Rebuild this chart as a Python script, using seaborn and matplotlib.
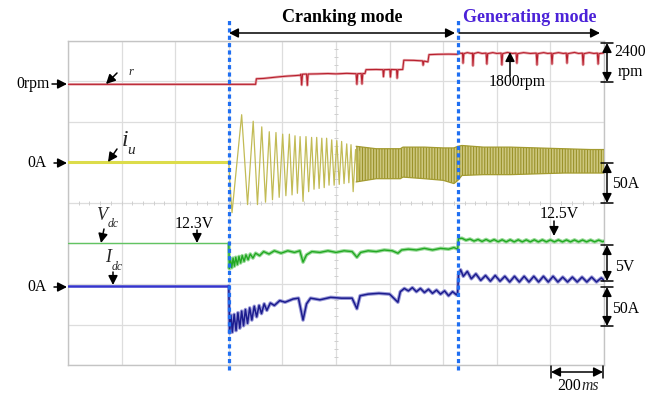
import numpy as np
import pandas as pd
import matplotlib
matplotlib.use("Agg")
import matplotlib.pyplot as plt
from matplotlib.lines import Line2D
from matplotlib.patches import FancyArrowPatch
import seaborn as sns

# ---------------- recorded waveforms (time in ms, 200 ms/div) ----------------
speed_t = [0, 700, 703, 730, 760, 790, 820, 850, 866, 869, 872, 875, 890, 893, 896,
           930, 970, 1000, 1040, 1075, 1078, 1081, 1094, 1097, 1100, 1108, 1112, 1150,
           1175, 1177, 1180, 1201, 1203, 1206, 1226, 1228, 1231, 1249, 1253, 1290, 1323,
           1325, 1328, 1343, 1347, 1380, 1420, 1454,
           1457, 1468, 1472, 1474, 1477, 1490, 1505, 1509, 1511, 1514, 1530, 1545, 1560,
           1563, 1566, 1585, 1600, 1616, 1619, 1622, 1640, 1658, 1672, 1675, 1678, 1700,
           1725, 1747, 1750, 1753, 1775, 1790, 1803, 1806, 1809, 1830, 1848, 1859, 1862,
           1865, 1890, 1905, 1919, 1922, 1925, 1945, 1962, 1975, 1978, 1981, 2000]
speed_rpm = [0, 0, 330, 350, 400, 450, 490, 520, 540, 600, -40, 600, 610, -60, 610,
             620, 640, 620, 650, 630, 0, 630, 640, 20, 640, 640, 870, 880,
             870, 450, 870, 880, 430, 880, 870, 360, 870, 880, 1430, 1420, 1390,
             1130, 1380, 1330, 1760, 1780, 1790, 1780,
             1880, 1830, 1850, 1250, 1820, 1880, 1830, 1850, 1100, 1820, 1890, 1830, 1850,
             1200, 1820, 1880, 1830, 1850, 1150, 1820, 1890, 1830, 1850, 1250, 1820, 1880,
             1830, 1850, 1150, 1820, 1880, 1830, 1850, 1200, 1820, 1880, 1830, 1850, 1250,
             1820, 1890, 1830, 1850, 1150, 1820, 1880, 1830, 1850, 1200, 1820, 1860]

iu_t = [0, 600, 603, 612, 648, 670, 691, 707, 723, 737, 751, 763, 776, 788, 801, 813,
        826, 836, 847, 856, 866, 877, 888, 898, 909, 918, 928, 937, 947, 956, 965, 974,
        984, 993, 1003, 1012, 1021, 1030, 1040, 1048, 1056, 1064, 1073, 1081, 1089]
iu_amp = [0, 0, -20, -62, 59, -52, 51, -52, 44, -49, 38, -46, 37, -43, 35, -41,
          35, -40, 33, -38, 32, -48, 32, -36, 31, -33, 31, -32, 30, -31, 30, -28,
          28, -28, 27, -27, 26, -26, 23, -25, 22, -36, 16, -22, 14]

# dense part of the phase current: envelope of the ripple band
iu_band_t = [1075, 1150, 1240, 1250, 1330, 1400, 1440, 1455, 1470, 1550, 1650, 1750,
             1850, 1950, 2000]
iu_band_hi = [20, 17, 17, 19, 19, 18, 18, 20, 21, 19, 19, 18, 17, 16, 16]
iu_band_lo = [-24, -20, -20, -18, -20, -22, -26, -22, -16, -15, -15, -14, -13, -13, -13]

vdc_t = [0, 600, 602, 606, 611, 616, 621, 626, 632, 638, 644, 650, 657, 664, 672, 680,
         690, 700, 715, 730, 750, 770, 795, 820, 845, 865, 877, 890, 910, 940, 970,
         1000, 1030, 1060, 1078, 1092, 1120, 1150, 1180, 1210, 1231, 1245, 1270, 1300,
         1330, 1360, 1390, 1420, 1440, 1454,
         1457, 1470, 1485, 1500, 1515, 1530, 1545, 1560, 1575, 1590, 1605, 1620, 1635,
         1650, 1665, 1680, 1695, 1710, 1725, 1740, 1755, 1770, 1785, 1800, 1815, 1830,
         1845, 1860, 1875, 1890, 1905, 1920, 1935, 1950, 1965, 1980, 1995, 2000]
vdc_v = [12.3, 12.3, 9.2, 10.4, 9.3, 10.5, 9.5, 10.6, 9.7, 10.7, 9.9, 10.8, 10.1, 10.9,
         10.3, 11.0, 10.5, 11.1, 10.8, 11.3, 11.0, 11.4, 11.1, 11.4, 11.2, 11.4, 10.0,
         10.9, 11.3, 11.2, 11.4, 11.2, 11.4, 11.3, 10.6, 11.2, 11.4, 11.3, 11.5, 11.4,
         11.1, 11.5, 11.6, 11.5, 11.7, 11.5, 11.7, 11.6, 11.8, 11.6,
         12.9, 12.95, 12.7, 12.85, 12.6, 12.8, 12.55, 12.8, 12.55, 12.78, 12.52, 12.76,
         12.5, 12.76, 12.5, 12.76, 12.5, 12.75, 12.5, 12.76, 12.5, 12.75, 12.5, 12.74,
         12.5, 12.74, 12.5, 12.74, 12.5, 12.74, 12.5, 12.73, 12.5, 12.73, 12.5, 12.72,
         12.52, 12.6]

idc_t = [0, 600, 603, 608, 613, 620, 627, 634, 641, 648, 655, 662, 670, 678, 686, 695,
         704, 713, 722, 732, 742, 755, 770, 790, 810, 840, 860, 877, 890, 905, 940, 980,
         1020, 1060, 1078, 1090, 1120, 1160, 1200, 1231, 1240, 1255, 1270, 1285, 1300,
         1315, 1330, 1345, 1360, 1375, 1390, 1405, 1420, 1435, 1450, 1454,
         1457, 1465, 1475, 1490, 1505, 1522, 1540, 1558, 1576, 1594, 1612, 1630, 1648,
         1666, 1684, 1702, 1720, 1738, 1756, 1774, 1792, 1810, 1828, 1846, 1864, 1882,
         1900, 1918, 1936, 1954, 1972, 1990, 2000]
idc_amp = [0, 0, -58, -36, -57, -35, -55, -33, -52, -31, -49, -29, -46, -27, -42, -25,
           -38, -24, -34, -22, -30, -21, -24, -18, -20, -16, -15, -42, -22, -15, -17, -14,
           -15, -15, -28, -12, -10, -9, -10, -20, -7, -3, -6, -2, -7,
           -3, -8, -4, -9, -5, -10, -6, -12, -7, -11, -8,
           14, 20, 12, 18, 9, 15, 7, 13, 6, 13, 6, 12, 5,
           12, 5, 12, 5, 12, 5, 12, 5, 12, 5, 11, 5, 11,
           5, 11, 5, 11, 5, 10, 7]

mode_edges = [600, 1455]
mode_names = ["Cranking mode", "Generating mode"]

# ---------------- channel placement on the screen (divisions) ----------------
SPEED_OFF, SPEED_DIV = 6.93, 2400.0
IU_OFF, IU_DIV = 5.0, 50.0
VDC_OFF, VDC_DIV, VDC_REF = 3.0, 5.0, 12.3
IDC_OFF, IDC_DIV = 1.95, 50.0

W, H = 662, 394
sns.set_style("white")
plt.rcParams["font.family"] = ["Liberation Serif", "DejaVu Serif"]
plt.rcParams["hatch.linewidth"] = 0.8
plt.rcParams["hatch.color"] = "#9a922a"

fig = plt.figure(figsize=(W / 100, H / 100), dpi=100)
ax = fig.add_axes([68 / W, 29 / H, 536 / W, 324 / H])
ax.set_xlim(0, 2000)
ax.set_ylim(0, 8)


def trace(t, vals, off, div, ref, color, lw, halo=None, halo_lw=None, z=3):
    y = off + (np.asarray(vals, dtype=float) - ref) / div
    df = pd.DataFrame({"t": t, "y": y})
    if halo is not None:
        sns.lineplot(data=df, x="t", y="y", ax=ax, color=halo, lw=halo_lw,
                     estimator=None, sort=False, legend=False, zorder=z)
    sns.lineplot(data=df, x="t", y="y", ax=ax, color=color, lw=lw,
                 estimator=None, sort=False, legend=False, zorder=z + 0.1)


# rotor speed
trace(speed_t, speed_rpm, SPEED_OFF, SPEED_DIV, 0, "#b8202e", 0.8,
      halo="#e7a7ac", halo_lw=1.9)

# phase current: distinct cycles then the dense ripple band
band_hi = IU_OFF + np.asarray(iu_band_hi) / IU_DIV
band_lo = IU_OFF + np.asarray(iu_band_lo) / IU_DIV
ax.fill_between(iu_band_t, band_lo, band_hi, facecolor="#cdc77e",
                edgecolor="#9a922a", hatch="||||||", lw=0, zorder=3)
trace(iu_band_t, iu_band_hi, IU_OFF, IU_DIV, 0, "#a39b30", 0.9)
trace(iu_band_t, iu_band_lo, IU_OFF, IU_DIV, 0, "#a39b30", 0.9)
n0 = iu_t.index(600)
trace(iu_t[:n0 + 1], iu_amp[:n0 + 1], IU_OFF, IU_DIV, 0, "#dcdc4a", 2.2)
trace(iu_t[n0:], iu_amp[n0:], IU_OFF, IU_DIV, 0, "#c2bb55", 0.9)

# dc link voltage and current
m0 = vdc_t.index(600)
trace(vdc_t[:m0 + 1], vdc_v[:m0 + 1], VDC_OFF, VDC_DIV, VDC_REF, "#62c462", 1.0)
trace(vdc_t[m0:], vdc_v[m0:], VDC_OFF, VDC_DIV, VDC_REF, "#22a822", 1.0,
      halo="#98da98", halo_lw=2.6)
k0 = idc_t.index(600)
trace(idc_t[:k0 + 1], idc_amp[:k0 + 1], IDC_OFF, IDC_DIV, 0, "#3434cc", 1.8)
trace(idc_t[k0:], idc_amp[k0:], IDC_OFF, IDC_DIV, 0, "#1c1c8e", 1.1,
      halo="#9a9ad8", halo_lw=2.6)

# ---------------- oscilloscope graticule ----------------
ax.set_xlabel("")
ax.set_ylabel("")
ax.set_xticks(np.arange(0, 2001, 200))
ax.set_yticks(np.arange(0, 9, 1))
ax.tick_params(length=0, labelbottom=False, labelleft=False)
ax.grid(True, color="#dddddd", lw=0.9)
ax.set_axisbelow(True)
for s in ax.spines.values():
    s.set_color("#c4c4c4")
    s.set_linewidth(1.0)
minor_x = np.arange(0, 2001, 40)
minor_y = np.arange(0, 8.01, 0.2)
ax.vlines(minor_x, 4 - 0.05, 4 + 0.05, color="#cfcfcf", lw=0.7, zorder=1)
ax.hlines(minor_y, 1000 - 7, 1000 + 7, color="#cfcfcf", lw=0.7, zorder=1)

# mode boundaries
for e in mode_edges:
    ax.axvline(e, ymin=-0.015, ymax=1.072, color="#1f6ff2", lw=2.3,
               ls=(0, (1.3, 1.0)), clip_on=False, zorder=6)

# ---------------- annotations ----------------
def F(x, y):
    return (x / W, 1 - y / H)


TXT = dict(fontsize=11.3, color="black")
AR = dict(arrowstyle="-|>,head_length=0.55,head_width=0.28", color="black",
          lw=1.1, shrinkA=0, shrinkB=0, mutation_scale=10)
AR2 = dict(arrowstyle="<|-|>,head_length=0.55,head_width=0.28", color="black",
           lw=1.1, shrinkA=0, shrinkB=0, mutation_scale=10)


def arrow(p0, p1, style=AR):
    fig.add_artist(FancyArrowPatch(F(*p0), F(*p1), transform=fig.transFigure, **style))


def vbar(x, y0, y1):
    arrow((x, y0), (x, y1), AR2)
    for y in (y0, y1):
        fig.add_artist(Line2D([(x - 6) / W, (x + 6) / W], [1 - y / H] * 2,
                              transform=fig.transFigure, color="black", lw=1.1))


# mode headers
fig.text(*F(342, 17), mode_names[0], ha="center", va="center", fontsize=13,
         fontweight="bold", color="black")
fig.text(*F(530, 17), mode_names[1], ha="center", va="center", fontsize=13,
         fontweight="bold", color="#4b22d8")
arrow((455, 33), (229, 33), AR2)
arrow((459, 33), (600, 33))

# left zero markers
fig.text(*F(50, 84), "0rpm", ha="right", va="center", **TXT)
arrow((52, 84), (67, 84))
fig.text(*F(47, 163), "0A", ha="right", va="center", **TXT)
arrow((54, 163), (67, 163))
fig.text(*F(47, 287), "0A", ha="right", va="center", **TXT)
arrow((54, 287), (67, 287))

# trace names
fig.text(*F(131, 72), "r", ha="center", va="center", fontsize=9, style="italic")
arrow((117, 73), (106, 84))
fig.text(*F(125, 141), "i", ha="center", va="center", fontsize=17, style="italic")
fig.text(*F(131, 151), "u", ha="center", va="center", fontsize=11, style="italic")
arrow((117, 149), (108, 162))
fig.text(*F(102, 216), "V", ha="center", va="center", fontsize=13, style="italic")
fig.text(*F(113, 224), "dc", ha="center", va="center", fontsize=8.5, style="italic")
arrow((104, 229), (101, 243))
fig.text(*F(108, 258), "I", ha="center", va="center", fontsize=13, style="italic")
fig.text(*F(117, 267), "dc", ha="center", va="center", fontsize=8.5, style="italic")
arrow((113, 272), (113, 285))

# level callouts
fig.text(*F(194, 224), "12.3V", ha="center", va="center", **TXT)
arrow((197, 230), (197, 243))
fig.text(*F(517, 82), "1800rpm", ha="center", va="center", **TXT)
arrow((510, 76), (510, 52))
fig.text(*F(559, 214), "12.5V", ha="center", va="center", **TXT)
arrow((554, 221), (554, 236))

# scale bars
vbar(607, 43, 82)
fig.text(*F(630, 52), "2400", ha="center", va="center", **TXT)
fig.text(*F(630, 72), "rpm", ha="center", va="center", **TXT)
vbar(607, 163, 203)
fig.text(*F(626, 184), "50A", ha="center", va="center", **TXT)
vbar(607, 245, 281)
fig.text(*F(625, 267), "5V", ha="center", va="center", **TXT)
vbar(607, 287, 326)
fig.text(*F(626, 309), "50A", ha="center", va="center", **TXT)

arrow((551, 372), (603, 372), AR2)
for x in (551, 603):
    fig.add_artist(Line2D([x / W] * 2, [1 - 366 / H, 1 - 378 / H],
                          transform=fig.transFigure, color="black", lw=1.1))
fig.text(*F(581, 386), "200", ha="right", va="center", **TXT)
fig.text(*F(581, 386), "ms", ha="left", va="center", fontsize=11.3, style="italic")

fig.savefig("out.png", dpi=100, facecolor="white")
